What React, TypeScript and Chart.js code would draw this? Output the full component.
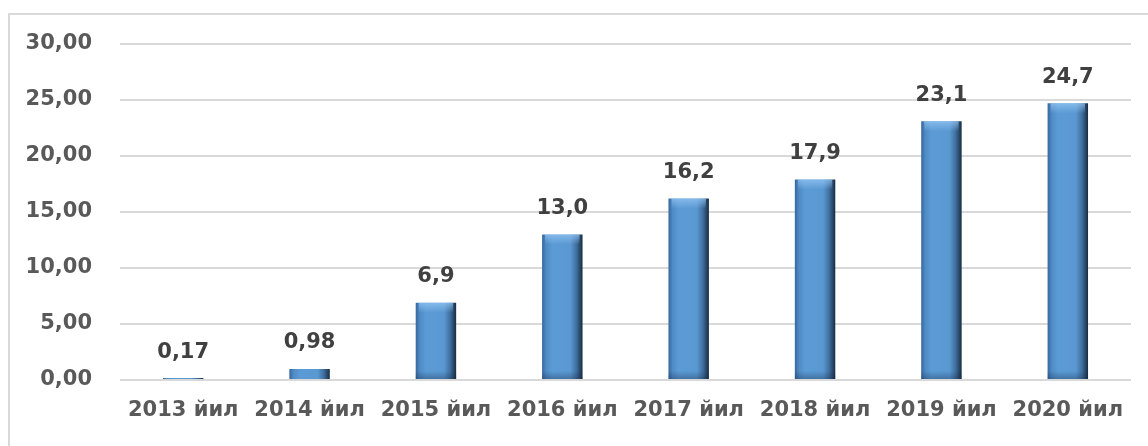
import React, { useEffect, useRef } from "react";
import { Chart, registerables } from "chart.js";

Chart.register(...registerables);

const categories = ["2013 йил", "2014 йил", "2015 йил", "2016 йил", "2017 йил", "2018 йил", "2019 йил", "2020 йил"];
const values = [0.17, 0.98, 6.9, 13.0, 16.2, 17.9, 23.1, 24.7];
const valueLabels = ["0,17", "0,98", "6,9", "13,0", "16,2", "17,9", "23,1", "24,7"];
const yTicks = [0, 5, 10, 15, 20, 25, 30];

const FONT = "'DejaVu Sans', sans-serif";
const BAR_PCT = 0.32;

const barGradient = (ctx: any) => {
  const chart = ctx.chart;
  const xs = chart.scales.x;
  if (!xs || ctx.dataIndex === undefined) return "#5b9bd5";
  const x = xs.getPixelForValue(ctx.dataIndex);
  const w = (xs.width / categories.length) * BAR_PCT;
  if (!isFinite(x) || !isFinite(w) || w <= 0) return "#5b9bd5";
  const g = chart.ctx.createLinearGradient(x - w / 2, 0, x + w / 2, 0);
  g.addColorStop(0, "#35679c");
  g.addColorStop(0.1, "#4f8ac4");
  g.addColorStop(0.25, "#5b9bd5");
  g.addColorStop(0.7, "#5a98d2");
  g.addColorStop(0.85, "#3f6f9f");
  g.addColorStop(1, "#182c42");
  return g;
};

const overlayPlugin = {
  id: "overlay",
  afterDatasetsDraw(chart: any) {
    const ctx = chart.ctx;
    const meta = chart.getDatasetMeta(0);
    ctx.save();
    meta.data.forEach((el: any, i: number) => {
      const { x, y, base, width } = el.getProps(["x", "y", "base", "width"], true);
      const h = base - y;
      if (h > 10) {
        const g = ctx.createLinearGradient(0, y, 0, y + 10);
        g.addColorStop(0, "rgba(150,200,245,0.7)");
        g.addColorStop(1, "rgba(150,200,245,0)");
        ctx.fillStyle = g;
        ctx.fillRect(x - width / 2 + 3, y, width - 6, 10);
        const g2 = ctx.createLinearGradient(0, base - 8, 0, base);
        g2.addColorStop(0, "rgba(20,40,70,0)");
        g2.addColorStop(1, "rgba(20,40,70,0.35)");
        ctx.fillStyle = g2;
        ctx.fillRect(x - width / 2, base - 8, width, 8);
      }
      ctx.font = `bold 21px ${FONT}`;
      ctx.fillStyle = "#404040";
      ctx.textAlign = "center";
      ctx.textBaseline = "middle";
      ctx.fillText(valueLabels[i], x, y - 26);
    });
    ctx.restore();
  },
};

export default function App() {
  const ref = useRef<HTMLCanvasElement | null>(null);
  useEffect(() => {
    if (!ref.current) return;
    const chart = new Chart(ref.current, {
      type: "bar",
      data: {
        labels: categories,
        datasets: [
          {
            data: values,
            backgroundColor: barGradient,
            borderWidth: 0,
            barPercentage: BAR_PCT,
            categoryPercentage: 1,
          },
        ],
      },
      options: {
        animation: false,
        responsive: false,
        maintainAspectRatio: false,
        layout: { padding: { left: 0, right: 19, top: 29, bottom: 0 } },
        plugins: { legend: { display: false }, tooltip: { enabled: false } },
        scales: {
          x: {
            grid: { display: false, drawTicks: false },
            border: { display: false },
            ticks: {
              padding: 18,
              color: "#595959",
              font: { family: FONT, size: 21, weight: "bold" },
              maxRotation: 0,
              autoSkip: false,
            },
            afterFit: (s: any) => {
              s.height = 68;
            },
          },
          y: {
            min: 0,
            max: 30,
            afterBuildTicks: (s: any) => {
              s.ticks = yTicks.map((v) => ({ value: v }));
            },
            grid: { color: "#d9d9d9", lineWidth: 2, drawTicks: false },
            border: { display: false },
            ticks: {
              padding: 28,
              color: "#595959",
              font: { family: FONT, size: 21, weight: "bold", lineHeight: 0.05 },
              callback: (v: any) => Number(v).toFixed(2).replace(".", ","),
            },
            afterFit: (s: any) => {
              s.width = 110;
            },
          },
        },
      },
      plugins: [overlayPlugin],
    });
    return () => chart.destroy();
  }, []);
  return (
    <div
      style={{
        position: "absolute",
        left: 8,
        top: 13,
        width: 1160,
        height: 440,
        borderLeft: "2px solid #d9d9d9",
        borderTop: "2px solid #d9d9d9",
        background: "#fff",
      }}
    >
      <canvas ref={ref} width={1140} height={433} style={{ display: "block" }} />
    </div>
  );
}
